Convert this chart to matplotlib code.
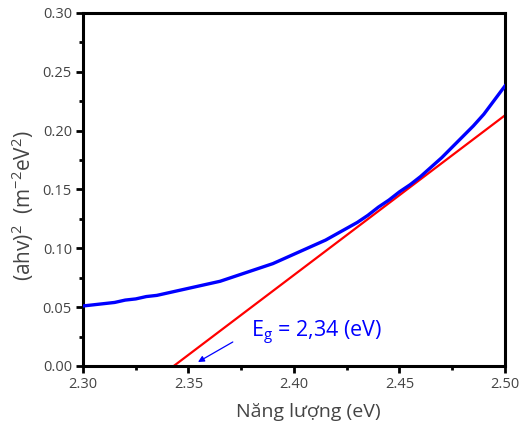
import matplotlib
matplotlib.use("Agg")
import matplotlib.pyplot as plt
from matplotlib.ticker import MultipleLocator

plt.rcParams['font.family'] = ['Open Sans', 'DejaVu Sans']
plt.rcParams['mathtext.fontset'] = 'custom'
plt.rcParams['mathtext.rm'] = 'Open Sans'
plt.rcParams['mathtext.it'] = 'Open Sans:italic'

# Data
energy = [2.300, 2.305, 2.310, 2.315, 2.320, 2.325, 2.330, 2.335, 2.340, 2.345,
          2.350, 2.355, 2.360, 2.365, 2.370, 2.375, 2.380, 2.385, 2.390, 2.395,
          2.400, 2.405, 2.410, 2.415, 2.420, 2.425, 2.430, 2.435, 2.440, 2.445,
          2.450, 2.455, 2.460, 2.465, 2.470, 2.475, 2.480, 2.485, 2.490, 2.495,
          2.500]
ahv2 = [0.051, 0.052, 0.053, 0.054, 0.056, 0.057, 0.059, 0.060, 0.062, 0.064,
        0.066, 0.068, 0.070, 0.072, 0.075, 0.078, 0.081, 0.084, 0.087, 0.091,
        0.095, 0.099, 0.103, 0.107, 0.112, 0.117, 0.122, 0.128, 0.135, 0.141,
        0.148, 0.154, 0.161, 0.169, 0.177, 0.186, 0.195, 0.204, 0.214, 0.226,
        0.238]
fit_x = [2.343, 2.50]
fit_y = [0.0, 0.213]
eg_label = "E$_\\mathregular{g}$ = 2,34 (eV)"

fig = plt.figure(figsize=(5.24, 4.32), dpi=100)
ax = fig.add_axes([0.1584, 0.1528, 0.8053, 0.8172])

ax.plot(energy, ahv2, color='#0000ff', lw=2.4, zorder=3)
ax.plot(fit_x, fit_y, color='#ff0000', lw=1.6, zorder=2, clip_on=False)

ax.annotate('', xy=(2.3545, 0.0034), xytext=(2.371, 0.0204),
            arrowprops=dict(arrowstyle='-|>', color='#0000ff', lw=0.9,
                            mutation_scale=9, shrinkA=0, shrinkB=0))
ax.text(2.3795, 0.028, eg_label, color='#0000ff', fontsize=15.5,
        ha='left', va='center')

ax.set_xlim(2.30, 2.50)
ax.set_ylim(0.0, 0.30)
ax.xaxis.set_major_locator(MultipleLocator(0.05))
ax.xaxis.set_minor_locator(MultipleLocator(0.025))
ax.yaxis.set_major_locator(MultipleLocator(0.05))
ax.yaxis.set_minor_locator(MultipleLocator(0.025))
ax.xaxis.set_major_formatter(plt.FuncFormatter(lambda v, p: f"{v:.2f}"))
ax.yaxis.set_major_formatter(plt.FuncFormatter(lambda v, p: f"{v:.2f}"))

for s in ax.spines.values():
    s.set_linewidth(2.2)
    s.set_color('black')

ax.tick_params(which='major', direction='out', length=5, width=2,
               labelsize=10.5, labelcolor='#444444', top=False, right=False, pad=3)
ax.tick_params(which='minor', direction='out', length=3, width=2,
               top=False, right=False)

ax.set_xlabel('Năng lượng (eV)', fontsize=14, color='#444444')
ax.set_ylabel('(ahv)$^\\mathregular{2}$  (m$^\\mathregular{-2}$eV$^\\mathregular{2}$)',
              fontsize=15, color='#444444')
ax.xaxis.set_label_coords(0.533, -0.105)
ax.yaxis.set_label_coords(-0.112, 0.453)

fig.savefig('out.png', dpi=100)
